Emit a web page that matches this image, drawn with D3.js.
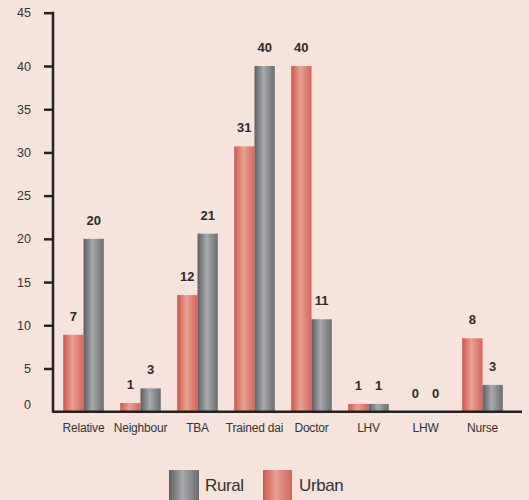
<!DOCTYPE html>
<html><head><meta charset="utf-8">
<script src="https://cdn.jsdelivr.net/npm/d3@7"></script>
<style>
html,body{margin:0;padding:0;background:#f6e3dc;}
svg{display:block;font-family:"Liberation Sans",Arial,sans-serif;}
</style></head>
<body>
<svg id="chart" width="529" height="500"></svg>
<script>
const categories = ["Relative","Neighbour","TBA","Trained dai","Doctor","LHV","LHW","Nurse"];
const seriesNames = ["Urban","Rural"];
// bar heights as drawn
const urbanValues = [8.9, 1.0, 13.5, 30.7, 40, 0.9, 0, 8.5];
const ruralValues = [20.0, 2.7, 20.6, 40, 10.7, 0.9, 0, 3.1];
// value labels as printed
const urbanLabels = [7, 1, 12, 31, 40, 1, 0, 8];
const ruralLabels = [20, 3, 21, 40, 11, 1, 0, 3];
const yTicks = [0,5,10,15,20,25,30,35,40,45];

const svg = d3.select("#chart");
const defs = svg.append("defs");
function grad(id, stops){
  const g = defs.append("linearGradient").attr("id", id).attr("x1","0%").attr("x2","100%").attr("y1","0%").attr("y2","0%");
  stops.forEach(s=>g.append("stop").attr("offset", s[0]).attr("stop-color", s[1]));
}
grad("gUrban", [["0%","#cd564c"],["45%","#e8a193"],["100%","#d4665b"]]);
grad("gRural", [["0%","#5c5e62"],["45%","#a7a9ac"],["100%","#6a6c70"]]);
const fills = {Urban:"url(#gUrban)", Rural:"url(#gRural)"};

const baseY = 411.7, axisX = 53;
const y = d3.scaleLinear().domain([0,40,45]).range([baseY, 66, 12.7]);
const x0 = d3.scaleBand().domain(categories).range([55, 511]).paddingInner(0.288).paddingOuter(0.144);
const x1 = d3.scaleBand().domain(seriesNames).range([0, x0.bandwidth()]);

const data = categories.map((c,i)=>({cat:c, vals:[
  {s:"Urban", v:urbanValues[i], lab:urbanLabels[i]},
  {s:"Rural", v:ruralValues[i], lab:ruralLabels[i]}]}));

const groups = svg.append("g").selectAll("g").data(data).join("g")
  .attr("transform", d=>`translate(${x0(d.cat)},0)`);
groups.selectAll("rect").data(d=>d.vals).join("rect")
  .attr("x", d=>x1(d.s)).attr("width", x1.bandwidth())
  .attr("y", d=>y(d.v)).attr("height", d=>baseY - y(d.v))
  .attr("fill", d=>fills[d.s]);
groups.selectAll("text").data(d=>d.vals).join("text")
  .attr("x", d=>x1(d.s)+x1.bandwidth()/2)
  .attr("y", d=>y(d.v)-14)
  .attr("text-anchor","middle")
  .attr("font-size","13px").attr("font-weight","bold").attr("fill","#2b2b2b")
  .text(d=>d.lab);

// y axis
const yAxis = d3.axisLeft(y).tickValues(yTicks).tickSize(9).tickPadding(13).tickFormat(d3.format("d"));
const ya = svg.append("g").attr("transform", `translate(${axisX},0)`).call(yAxis);
ya.select(".domain").remove();
ya.selectAll(".tick line").attr("stroke","#222").attr("stroke-width",2.5);
ya.selectAll(".tick text").attr("font-size","12.5px").attr("fill","#333").attr("font-family","Liberation Sans, Arial, sans-serif");
ya.selectAll(".tick").filter(d=>d===0).select("line").remove();
ya.selectAll(".tick").filter(d=>d===0).select("text").attr("y",-7);
svg.append("line").attr("x1",axisX).attr("x2",axisX).attr("y1",y(45)-1).attr("y2",baseY+1)
  .attr("stroke","#222").attr("stroke-width",2.5);

// x axis
svg.append("line").attr("x1",axisX).attr("x2",522).attr("y1",baseY).attr("y2",baseY)
  .attr("stroke","#222").attr("stroke-width",2.5);
svg.append("g").selectAll("text").data(categories).join("text")
  .attr("x", d=>x0(d)+x0.bandwidth()/2).attr("y", 431.5)
  .attr("text-anchor","middle").attr("font-size","12px").attr("letter-spacing","-0.2px")
  .attr("fill","#333").text(d=>d);

// legend
const legend = [{s:"Rural", x:169, w:30, tx:205}, {s:"Urban", x:263, w:29, tx:299}];
const lg = svg.append("g").selectAll("g").data(legend).join("g");
lg.append("rect").attr("x",d=>d.x).attr("y",470).attr("width",d=>d.w).attr("height",32).attr("fill",d=>fills[d.s]);
lg.append("text").attr("x",d=>d.tx).attr("y",491).attr("font-size","17px").attr("letter-spacing","-0.4px")
  .attr("fill","#333").text(d=>d.s);
</script>
</body></html>
